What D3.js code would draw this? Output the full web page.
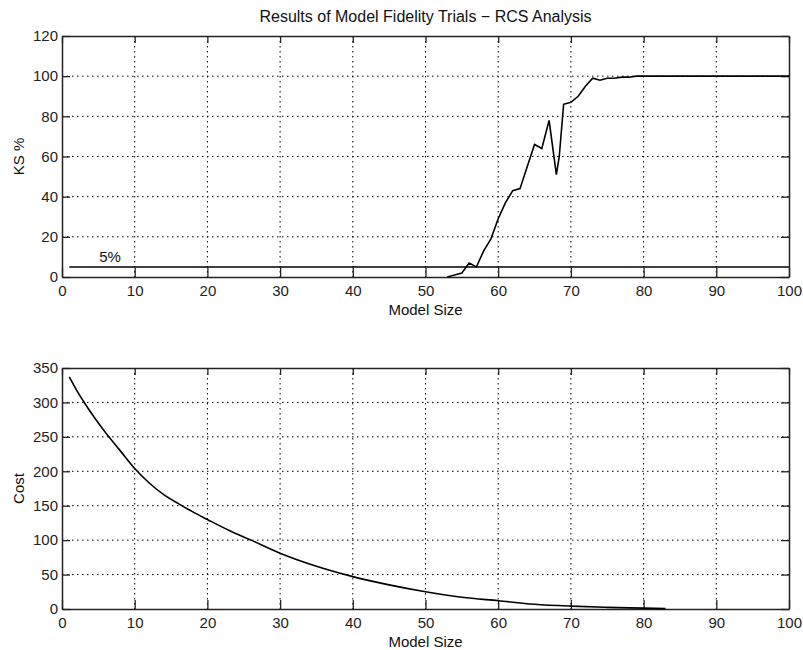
<!DOCTYPE html>
<html>
<head>
<meta charset="utf-8">
<script src="https://cdn.jsdelivr.net/npm/d3@7"></script>
<style>
  body { margin: 0; background: #fff; }
  text { font-family: "Liberation Sans", Arial, sans-serif; fill: #111; }
</style>
</head>
<body>
<script>
//data
var ksSize = [53, 54, 55, 56, 57, 58, 59, 60, 61, 62, 63, 64, 65, 66, 67, 68, 68.4, 69, 70, 71, 72, 73, 74, 75, 76, 77, 78, 79, 80, 90, 100];
var ksPct  = [0, 1, 2, 7, 5, 13, 19, 29, 37, 43, 44, 55, 66, 64, 78, 51, 60, 86, 87, 90, 95, 99, 98, 99, 99, 99.5, 99.5, 100, 100, 100, 100];

var limitSize = [1, 100];
var limitPct  = [5, 5];

var costSize = [1, 2, 3, 4, 5, 6, 7, 8, 10, 12, 14, 16, 18, 20, 23, 26, 30, 35, 40, 45, 50, 55, 60, 65, 70, 75, 80, 83];
var costVal  = [337, 318, 301, 285, 270, 256, 243, 230, 204, 183, 166, 153, 141, 130, 114, 100, 81, 62, 47, 35, 25, 17, 12, 7, 4.2, 2.4, 1.2, 0.5];

var xTicks = d3.range(0, 101, 10);
var ksTicks = d3.range(0, 121, 20);
var costTicks = d3.range(0, 351, 50);

//setting the width and height
var width = 803,
    height = 650;

var svg = d3.select("body").append("svg")
    .attr("width", width)
    .attr("height", height);

//shared x range
var left = 62, right = 789;
var fontSize = '15px';

//draws one matlab style panel
function panel(top, bottom, yMax, yTicks, yLabel, series) {
	var x = d3.scaleLinear().domain([0, 100]).range([left, right]);
	var y = d3.scaleLinear().domain([0, yMax]).range([bottom, top]);
	var g = svg.append('g');

	//grid
	g.selectAll('.vgrid').data(xTicks.slice(1, -1)).enter().append('line')
		.attr('x1', function(d) { return x(d); }).attr('x2', function(d) { return x(d); })
		.attr('y1', top).attr('y2', bottom)
		.style('stroke', '#000').style('stroke-width', 1).style('stroke-dasharray', '1.5,3.5');
	g.selectAll('.hgrid').data(yTicks.slice(1, -1)).enter().append('line')
		.attr('y1', function(d) { return y(d); }).attr('y2', function(d) { return y(d); })
		.attr('x1', left).attr('x2', right)
		.style('stroke', '#000').style('stroke-width', 1).style('stroke-dasharray', '1.5,3.5');

	//axes with inner ticks
	var xb = g.append('g').attr('transform', 'translate(0,' + bottom + ')')
		.call(d3.axisBottom(x).tickValues(xTicks).tickSizeInner(-9).tickSizeOuter(0).tickPadding(8));
	var xt = g.append('g').attr('transform', 'translate(0,' + top + ')')
		.call(d3.axisTop(x).tickValues(xTicks).tickSizeInner(-7).tickSizeOuter(0).tickFormat(''));
	var yl = g.append('g').attr('transform', 'translate(' + left + ',0)')
		.call(d3.axisLeft(y).tickValues(yTicks).tickSizeInner(-8).tickSizeOuter(0).tickPadding(4));
	var yr = g.append('g').attr('transform', 'translate(' + right + ',0)')
		.call(d3.axisRight(y).tickValues(yTicks).tickSizeInner(-8).tickSizeOuter(0).tickFormat(''));
	[xb, xt, yl, yr].forEach(function(a) {
		a.selectAll('path').style('stroke', '#222').style('stroke-width', 1.5);
		a.selectAll('line').style('stroke', '#222').style('stroke-width', 1.3);
		a.selectAll('text').style('font-size', fontSize).style('fill', '#222')
			.attr('font-family', null);
	});

	//data lines
	series.forEach(function(s) {
		var pts = s.xs.map(function(v, i) { return [v, s.ys[i]]; });
		g.append('path')
			.datum(pts)
			.attr('d', d3.line()
				.x(function(d) { return x(d[0]); })
				.y(function(d) { return y(d[1]); })
				.curve(s.curve || d3.curveLinear))
			.style('fill', 'none')
			.style('stroke', '#000')
			.style('stroke-width', 1.6);
	});

	//labels
	g.append('text')
		.attr('x', (left + right) / 2).attr('y', bottom + 38)
		.attr('text-anchor', 'middle')
		.style('font-size', fontSize)
		.text('Model Size');
	g.append('text')
		.attr('transform', 'translate(24,' + (top + bottom) / 2 + ') rotate(-90)')
		.attr('text-anchor', 'middle')
		.style('font-size', fontSize)
		.text(yLabel);

	return { x: x, y: y, g: g };
}

//top panel
var p1 = panel(36, 277, 120, ksTicks, 'KS %', [
	{ xs: limitSize, ys: limitPct },
	{ xs: ksSize, ys: ksPct }
]);
p1.g.append('text')
	.attr('x', p1.x(6.6)).attr('y', p1.y(5) - 5)
	.attr('text-anchor', 'middle')
	.style('font-size', fontSize)
	.text('5%');

svg.append('text')
	.attr('x', (left + right) / 2).attr('y', 22)
	.attr('text-anchor', 'middle')
	.style('font-size', '16px')
	.text('Results of Model Fidelity Trials \u2212 RCS Analysis');

//bottom panel
var p2 = panel(368, 609, 350, costTicks, 'Cost', [
	{ xs: costSize, ys: costVal, curve: d3.curveMonotoneX }
]);
</script>
</body>
</html>
